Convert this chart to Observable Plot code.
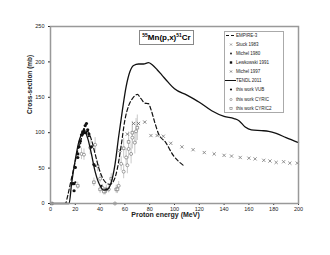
<!DOCTYPE html>
<html><head><meta charset="utf-8">
<script src="https://cdn.jsdelivr.net/npm/d3@7"></script>
<script src="https://cdn.jsdelivr.net/npm/@observablehq/plot@0.6"></script>
<style>
body{margin:0;background:#fff;font-family:"Liberation Sans",Arial,sans-serif;}
#wrap{position:relative;width:330px;height:255px;}
#title{position:absolute;left:139px;top:30px;width:53px;height:13px;border:1px solid #888;background:#fff;font-weight:bold;font-size:8px;line-height:13px;text-align:center;white-space:nowrap;}
#title sup{font-size:5px;vertical-align:3px;line-height:0;}
#legend{position:absolute;left:224px;top:31px;width:58px;height:80px;border:1px solid #aaa;background:#fff;}
.le{position:absolute;left:0;height:9px;width:58px;font-size:4.5px;line-height:9px;color:#222;}
.le svg{position:absolute;left:0;top:0;}
.le span{position:absolute;left:11px;top:0;}
</style></head>
<body><div id="wrap"></div>
<script>
// TENDL 2011
const tendlE = [0, 15, 17, 20, 23, 26, 28, 30, 33, 36, 40, 43, 46, 49, 52, 55, 58, 61, 64, 67, 71, 75, 79, 82, 86, 90, 95, 100, 110, 120, 130, 140, 148, 152, 157, 162, 170, 176, 182, 190, 200];
const tendlS = [0, 0, 28, 62, 88, 99, 100, 92, 70, 45, 25, 19, 20, 30, 55, 95, 132, 165, 186, 195, 197, 197, 199, 196, 189, 181, 171, 162, 153, 143, 131, 123, 120, 117, 108, 104, 103, 102, 99, 93, 86];
// EMPIRE-3
const empE = [0, 12, 14, 16, 19, 22, 25, 28, 30, 33, 36, 39, 42, 45, 48, 51, 54, 57, 60, 63, 66, 70, 73, 76, 79, 81, 84, 87, 93, 99, 103, 107];
const empS = [0, 0, 12, 28, 52, 75, 92, 101, 102, 90, 70, 50, 36, 29, 27, 32, 50, 82, 118, 138, 148, 154, 148, 142, 141, 133, 115, 99, 86, 68, 60, 54];
// Stuck 1983
const stuckE = [81, 86, 91, 97, 106, 115, 124, 132, 140, 146, 153, 160, 165, 172, 177, 182, 188, 193, 199];
const stuckS = [96, 96, 95, 85, 80, 76, 72, 70, 68, 67, 65, 64, 63, 61, 60, 58, 59, 57, 57];
// Michel 1997
const mi97E = [56, 62, 67, 71, 76];
const mi97S = [75, 98, 113, 113, 115];
// Michel 1980
const mi80E = [20, 24, 27, 29, 31, 36, 41, 45];
const mi80S = [30, 85, 105, 100, 95, 53, 25, 20];
// Lewkowski 1991
const lewE = [19, 22, 26, 28];
const lewS = [28, 70, 101, 100];
// this work VUB
const vubE = [18, 19, 20, 22, 23, 24, 25, 26, 27, 28, 29, 30, 31, 33, 35];
const vubS = [28, 18, 51, 65, 80, 88, 97, 100, 103, 110, 113, 104, 98, 80, 55];
// this work CYRIC
const cyE = [25, 27, 32, 36, 38, 40, 42, 44, 47, 52, 55, 57, 59, 61, 62, 63, 65, 66, 68, 69];
const cyS = [70, 69, 79, 83, 53, 35, 22, 17, 20, 0, 25, 56, 45, 65, 54, 77, 70, 93, 86, 102];
const cyErr = [8, 8, 10, 10, 8, 6, 5, 5, 5, 0, 6, 10, 10, 12, 12, 14, 14, 16, 16, 18];
// this work CYRIC2
const cy2E = [1, 22, 35, 40, 43, 45, 49, 53, 54, 59, 63, 66, 70];
const cy2S = [0, 25, 30, 20, 17, 20, 35, 20, 20, 78, 87, 100, 107];
const cy2Err = [0, 5, 6, 6, 5, 6, 7, 6, 6, 14, 14, 16, 18];

const xTicks = [0, 20, 40, 60, 80, 100, 120, 140, 160, 180, 200];
const yTicks = [0, 50, 100, 150, 200, 250];

const tendl = tendlE.map((e, i) => ({e, s: tendlS[i]}));
const emp = empE.map((e, i) => ({e, s: empS[i]}));
const stuck = stuckE.map((e, i) => ({e, s: stuckS[i]}));
const mi97 = mi97E.map((e, i) => ({e, s: mi97S[i]}));
const mi80 = mi80E.map((e, i) => ({e, s: mi80S[i]}));
const lew = lewE.map((e, i) => ({e, s: lewS[i]}));
const vub = vubE.map((e, i) => ({e, s: vubS[i]}));
const cy = cyE.map((e, i) => ({e, s: cyS[i], lo: cyS[i] - cyErr[i], hi: cyS[i] + cyErr[i]}));
const cy2 = cy2E.map((e, i) => ({e, s: cy2S[i], lo: cy2S[i] - cy2Err[i], hi: cy2S[i] + cy2Err[i]}));

const chart = Plot.plot({
  width: 330, height: 255,
  marginLeft: 50, marginRight: 32, marginTop: 26, marginBottom: 52,
  style: {fontFamily: "Liberation Sans, Arial, sans-serif", fontSize: "5.5px", color: "#222", background: "#fff"},
  x: {domain: [0, 200], ticks: xTicks, tickSize: 2, tickPadding: 1.5, label: null},
  y: {domain: [0, 250], ticks: yTicks, tickSize: 2, tickPadding: 4, label: null},
  marks: [
    Plot.ruleX(cy, {x: "e", y1: "lo", y2: "hi", stroke: "#bbb", strokeWidth: 0.8}),
    Plot.ruleX(cy2, {x: "e", y1: "lo", y2: "hi", stroke: "#bbb", strokeWidth: 0.8}),
    Plot.dot(stuck, {x: "e", y: "s", symbol: "times", r: 1.6, stroke: "#777", strokeWidth: 0.8}),
    Plot.dot(mi97, {x: "e", y: "s", symbol: "times", r: 1.6, stroke: "#666", strokeWidth: 0.8}),
    Plot.dot(cy, {x: "e", y: "s", symbol: "circle", r: 1.5, stroke: "#777", fill: "white", strokeWidth: 0.7}),
    Plot.dot(cy2, {x: "e", y: "s", symbol: "square", r: 1.5, stroke: "#777", fill: "white", strokeWidth: 0.7}),
    Plot.line(tendl, {x: "e", y: "s", curve: "monotone-x", stroke: "#111", strokeWidth: 1.3}),
    Plot.line(emp, {x: "e", y: "s", curve: "monotone-x", stroke: "#111", strokeWidth: 1.2, strokeDasharray: "4,2.5"}),
    Plot.dot(mi80, {x: "e", y: "s", symbol: "circle", r: 1.1, fill: "#111"}),
    Plot.dot(lew, {x: "e", y: "s", symbol: "square", r: 1.6, fill: "#111"}),
    Plot.dot(vub, {x: "e", y: "s", symbol: "circle", r: 1.6, fill: "#111"}),
    Plot.frame({stroke: "#999", strokeWidth: 1.5}),
    Plot.text(["Proton energy (MeV)"], {frameAnchor: "bottom", dx: -9, dy: 13, fontWeight: "bold", fontSize: 7, fill: "#222"}),
    Plot.text(["Cross-section (mb)"], {frameAnchor: "left", dx: -21, dy: -1, rotate: -90, fontWeight: "bold", fontSize: 6.5, fill: "#222"})
  ]
});
const wrap = document.getElementById("wrap");
wrap.appendChild(chart);

const title = document.createElement("div");
title.id = "title";
title.innerHTML = "<sup>55</sup>Mn(p,x)<sup>51</sup>Cr";
wrap.appendChild(title);

const legendItems = [
  {label: "EMPIRE-3", kind: "dash"},
  {label: "Stuck 1983", kind: "times", color: "#777"},
  {label: "Michel 1980", kind: "dot"},
  {label: "Lewkowski 1991", kind: "bsquare"},
  {label: "Michel 1997", kind: "times", color: "#555"},
  {label: "TENDL 2011", kind: "line"},
  {label: "this work VUB", kind: "bcircle"},
  {label: "this work CYRIC", kind: "ocircle"},
  {label: "this work CYRIC2", kind: "osquare"}
];
const leg = document.createElement("div");
leg.id = "legend";
legendItems.forEach((it, i) => {
  const row = document.createElement("div");
  row.className = "le";
  row.style.top = (-1.2 + i * 9.1) + "px";
  let sym = "";
  const cx = 6, cy0 = 4.5;
  if (it.kind === "dash") sym = `<line x1="1" x2="9" y1="${cy0}" y2="${cy0}" stroke="#111" stroke-width="1" stroke-dasharray="3,2"/>`;
  else if (it.kind === "line") sym = `<line x1="0" x2="11" y1="${cy0}" y2="${cy0}" stroke="#111" stroke-width="1"/>`;
  else if (it.kind === "times") sym = `<path d="M${cx-1},${cy0-1}L${cx+1},${cy0+1}M${cx+1},${cy0-1}L${cx-1},${cy0+1}" stroke="${it.color}" stroke-width="0.7"/>`;
  else if (it.kind === "dot") sym = `<circle cx="${cx}" cy="${cy0}" r="0.9" fill="#111"/>`;
  else if (it.kind === "bsquare") sym = `<rect x="${cx-1.2}" y="${cy0-1.2}" width="2.4" height="2.4" fill="#111"/>`;
  else if (it.kind === "bcircle") sym = `<circle cx="${cx}" cy="${cy0}" r="1.1" fill="#111"/>`;
  else if (it.kind === "ocircle") sym = `<circle cx="${cx}" cy="${cy0}" r="1.1" fill="none" stroke="#777" stroke-width="0.6"/>`;
  else if (it.kind === "osquare") sym = `<rect x="${cx-1.1}" y="${cy0-1.1}" width="2.2" height="2.2" fill="none" stroke="#777" stroke-width="0.6"/>`;
  row.innerHTML = `<svg width="12" height="9">${sym}</svg><span>${it.label}</span>`;
  leg.appendChild(row);
});
wrap.appendChild(leg);
</script>
</body></html>
